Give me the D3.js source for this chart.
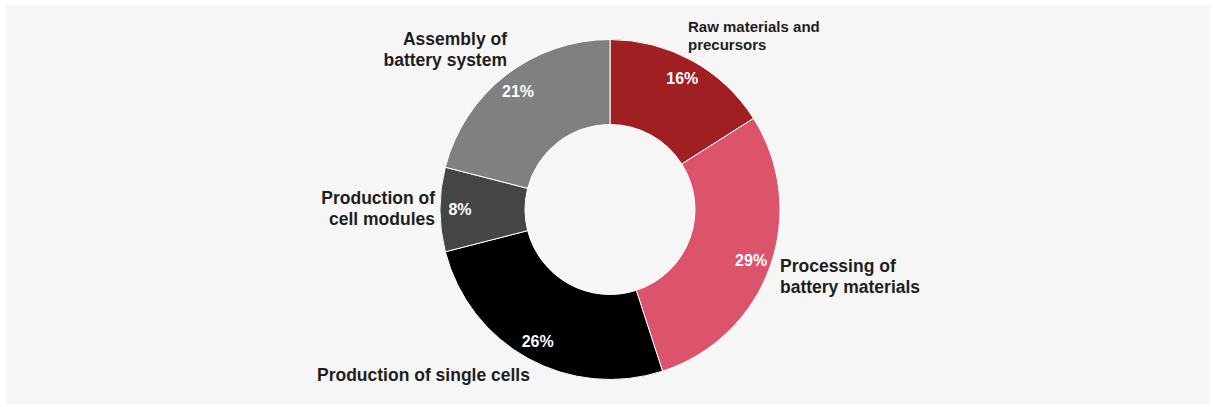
<!DOCTYPE html>
<html>
<head>
<meta charset="utf-8">
<script src="https://cdn.jsdelivr.net/npm/d3@7"></script>
<style>
  html, body { margin: 0; padding: 0; background: #ffffff; }
  svg { display: block; }
  text { font-family: "Liberation Sans", Arial, sans-serif; font-weight: bold; }
</style>
</head>
<body>
<svg id="chart" width="1213" height="407"></svg>
<script>
// ---- data ----
const categories = [
  "Raw materials and precursors",
  "Processing of battery materials",
  "Production of single cells",
  "Production of cell modules",
  "Assembly of battery system"
];
const values = [16, 29, 26, 8, 21];
const labelLines = [
  ["Raw materials and", "precursors"],
  ["Processing of", "battery materials"],
  ["Production of single cells"],
  ["Production of", "cell modules"],
  ["Assembly of", "battery system"]
];

// ---- styles / layout ----
const colors = ["#9f1f22", "#db546c", "#000000", "#454545", "#808080"];
const W = 1213, H = 407;
const cx = 610, cy = 209.5, outerR = 170, innerR = 85, pctR = 150;
// label anchor offsets relative to center (x, first baseline y), text-anchor, font size, line height
const labelLayout = [
  { dx: 78,   dy: -177.5, anchor: "start", size: 15,   lh: 18 },
  { dx: 170,  dy: 62.5,   anchor: "start", size: 17.5, lh: 21 },
  { dx: -293, dy: 171,    anchor: "start", size: 17.5, lh: 21 },
  { dx: -175, dy: -5.5,   anchor: "end",   size: 17.5, lh: 21 },
  { dx: -103, dy: -164.5, anchor: "end",   size: 17.5, lh: 21 }
];

const svg = d3.select("#chart");
svg.append("rect").attr("x", 6).attr("y", 5).attr("width", 1204).attr("height", 399).attr("fill", "#f6f6f6");

const g = svg.append("g").attr("transform", `translate(${cx},${cy})`);
const pie = d3.pie().sort(null).value(d => d)(values);
const arc = d3.arc().innerRadius(innerR).outerRadius(outerR);
const pctArc = d3.arc().innerRadius(pctR).outerRadius(pctR);

g.selectAll("path.slice").data(pie).join("path")
  .attr("class", "slice")
  .attr("d", arc)
  .attr("fill", (d, i) => colors[i])
  .attr("stroke", "#ffffff")
  .attr("stroke-width", 1);

g.selectAll("text.pct").data(pie).join("text")
  .attr("class", "pct")
  .attr("transform", d => `translate(${pctArc.centroid(d)})`)
  .attr("text-anchor", "middle")
  .attr("dy", "0.36em")
  .attr("fill", "#ffffff")
  .attr("font-size", 16)
  .text(d => d.data + "%");

labelLines.forEach((lines, i) => {
  const L = labelLayout[i];
  const t = g.append("text")
    .attr("x", L.dx).attr("y", L.dy)
    .attr("text-anchor", L.anchor)
    .attr("font-size", L.size)
    .attr("fill", "#1e1e1e");
  lines.forEach((ln, j) => {
    t.append("tspan").attr("x", L.dx).attr("y", L.dy + j * L.lh).text(ln);
  });
});
</script>
</body>
</html>
